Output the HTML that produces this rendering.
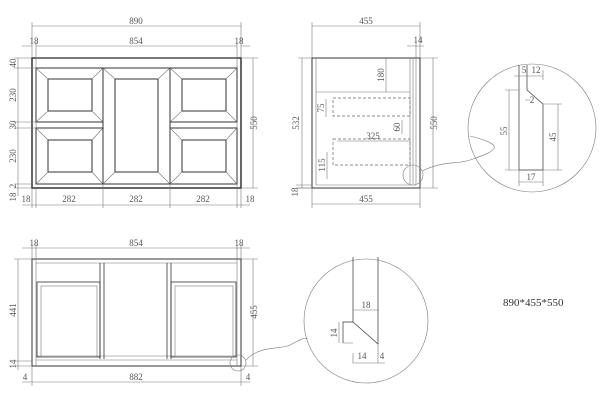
<!DOCTYPE html>
<html><head><style>
html,body{margin:0;padding:0;background:#fff;}
svg{display:block;}
text{font-family:"Liberation Serif",serif;font-size:9px;fill:#555;}
.l{stroke:#333;stroke-width:1;fill:none;}
.t{stroke:#777;stroke-width:0.6;fill:none;}
.d{stroke:#666;stroke-width:0.7;fill:none;stroke-dasharray:3,2;}
</style></head><body>
<svg width="600" height="410" viewBox="0 0 600 410" xmlns="http://www.w3.org/2000/svg">
<!-- FRONT VIEW TOP -->
<rect class="l" x="32" y="58" width="209" height="130" style="stroke-width:1.5"/>
<rect class="t" x="36" y="58" width="201" height="126"/>
<line class="t" x1="36" y1="68" x2="237" y2="68"/>
<!-- left top panel -->
<rect class="l" x="36" y="68" width="67" height="54"/>
<rect class="l" x="48" y="79" width="44" height="32"/>
<path class="t" d="M36 68L48 79M103 68L92 79M36 122L48 111M103 122L92 111"/>
<rect class="l" x="36" y="128" width="67" height="56"/>
<rect class="l" x="48" y="140" width="44" height="32"/>
<path class="t" d="M36 128L48 140M103 128L92 140M36 184L48 172M103 184L92 172"/>
<rect class="l" x="103" y="68" width="67" height="116"/>
<rect class="l" x="115" y="79" width="43" height="93"/>
<path class="t" d="M103 68L115 79M170 68L158 79M103 184L115 172M170 184L158 172"/>
<rect class="l" x="170" y="68" width="67" height="54"/>
<rect class="l" x="182" y="79" width="44" height="32"/>
<path class="t" d="M170 68L182 79M237 68L226 79M170 122L182 111M237 122L226 111"/>
<rect class="l" x="170" y="128" width="67" height="56"/>
<rect class="l" x="182" y="140" width="44" height="32"/>
<path class="t" d="M170 128L182 140M237 128L226 140M170 184L182 172M237 184L226 172"/>
<!-- dims -->
<path class="t" d="M32 26H241M32 22V58M241 22V58M36 46H237M22 46H32M241 46H250M32 42V58M36 42V58M237 42V58M241 42V58"/>
<text x="136" y="24" text-anchor="middle">890</text>
<text x="136" y="44" text-anchor="middle">854</text>
<text x="34" y="44" text-anchor="middle">18</text>
<text x="239" y="44" text-anchor="middle">18</text>
<path class="t" d="M18 58V196M14 58H32M14 68H36M14 122H36M14 128H36M14 184H32M14 188H32M253 58V188M241 58H258M241 188H258"/>
<text transform="translate(16,63) rotate(-90)" text-anchor="middle">40</text>
<text transform="translate(16,95) rotate(-90)" text-anchor="middle">230</text>
<text transform="translate(16,125) rotate(-90)" text-anchor="middle">30</text>
<text transform="translate(16,156) rotate(-90)" text-anchor="middle">230</text>
<text transform="translate(16,186) rotate(-90)" text-anchor="middle">2</text>
<text transform="translate(16,197) rotate(-90)" text-anchor="middle">18</text>
<text transform="translate(257,123) rotate(-90)" text-anchor="middle">550</text>
<path class="t" d="M22 205H250M32 188V208M36 188V208M103 184V208M170 184V208M237 184V208M241 188V208"/>
<text x="69" y="202" text-anchor="middle">282</text>
<text x="136" y="202" text-anchor="middle">282</text>
<text x="203" y="202" text-anchor="middle">282</text>
<text x="26" y="202" text-anchor="middle">18</text>
<text x="250" y="202" text-anchor="middle">18</text>
<!-- SIDE VIEW -->
<rect class="l" x="312" y="58" width="108" height="130"/>
<line class="t" x1="316" y1="58" x2="316" y2="185"/>
<line class="t" x1="316" y1="185" x2="416" y2="185"/>
<line class="t" x1="316" y1="92" x2="410" y2="92"/>
<path class="t" d="M410 58V184M413 58V184M416 58V184"/>
<rect class="d" x="333" y="98" width="77" height="18"/>
<rect class="d" x="333" y="139" width="77" height="26"/>
<path class="t" d="M312 26H420M312 22V58M420 22V58M312 204H420M312 188V208M420 188V208M302 58V188M298 58H312M298 188H312M433 58V188M420 58H438M420 188H438M407 46H424M416 40V58M420 40V58"/>
<text x="366" y="24" text-anchor="middle">455</text>
<text x="366" y="202" text-anchor="middle">455</text>
<text x="418" y="43" text-anchor="middle">14</text>
<text transform="translate(299,123) rotate(-90)" text-anchor="middle">532</text>
<text transform="translate(437,123) rotate(-90)" text-anchor="middle">550</text>
<path class="t" d="M386 58V92M326 99V117M327 152V179M402 120V134M337 141H410"/>
<text transform="translate(384,75) rotate(-90)" text-anchor="middle">180</text>
<text transform="translate(324,108) rotate(-90)" text-anchor="middle">75</text>
<text transform="translate(325,165) rotate(-90)" text-anchor="middle">115</text>
<text transform="translate(400,127) rotate(-90)" text-anchor="middle">60</text>
<text x="373" y="139" text-anchor="middle">325</text>
<path class="t" d="M296 185H312M296 188H312"/>
<text transform="translate(298,192) rotate(-90)" text-anchor="middle">18</text>
<circle class="t" cx="413" cy="175" r="10"/>
<path class="t" d="M422 171C445 160,455 165,470 160C500 150,505 145,470 136"/>
<path class="t" d="M422 172C440 162,460 168,480 158C500 150,495 145,470 136" style="display:none"/>
<path class="t" d="M423 171C445 162,460 170,480 158C490 150,495 144,470 138" style="display:none"/>
<!-- detail circle top -->
<circle class="t" cx="532" cy="128" r="64"/>
<path class="l" style="stroke-width:0.7" d="M519 65V170H543V104L527 90V65"/>
<path class="t" d="M509 90V170M505 90H519M505 170H519M558 104V170M543 104H562M543 170H562M519 182H543M519 170V186M543 170V186M514 76H543M543 70V80M525 100H530"/>
<text x="524" y="73" text-anchor="middle">5</text>
<text x="536" y="73" text-anchor="middle">12</text>
<text x="532" y="103" text-anchor="middle">2</text>
<text x="531" y="180" text-anchor="middle">17</text>
<text transform="translate(507,131) rotate(-90)" text-anchor="middle">55</text>
<text transform="translate(556,137) rotate(-90)" text-anchor="middle">45</text>
<!-- BOTTOM VIEW -->
<rect class="l" x="32" y="259" width="209" height="107"/>
<path class="t" d="M36 259V366M237 259V366M36 263H237M36 356H237M36 360H237"/>
<path class="l" style="stroke-width:0.8" d="M100 263V359M104 263V359M167 263V359M171 263V359"/>
<rect class="l" x="37" y="282" width="63" height="75" style="stroke-width:0.8"/>
<rect class="t" x="41" y="286" width="56" height="71"/>
<rect class="l" x="171" y="282" width="65" height="75" style="stroke-width:0.8"/>
<rect class="t" x="175" y="286" width="58" height="71"/>
<path class="t" d="M22 248H250M32 244V259M36 244V259M237 244V259M241 244V259M18 259V370M14 259H32M14 361H32M14 366H32M253 259V366M241 259H258M241 366H258M22 382H250M32 366V386M241 366V386"/>
<text x="136" y="246" text-anchor="middle">854</text>
<text x="34" y="246" text-anchor="middle">18</text>
<text x="239" y="246" text-anchor="middle">18</text>
<text transform="translate(16,310) rotate(-90)" text-anchor="middle">441</text>
<text transform="translate(16,364) rotate(-90)" text-anchor="middle">14</text>
<text transform="translate(257,312) rotate(-90)" text-anchor="middle">455</text>
<text x="136" y="380" text-anchor="middle">882</text>
<text x="25" y="380" text-anchor="middle">4</text>
<text x="248" y="380" text-anchor="middle">4</text>
<circle class="t" cx="238" cy="363" r="8"/>
<path class="t" d="M246 360C260 345,280 350,290 345C300 340,302 338,308 338"/>
<!-- detail circle bottom -->
<circle class="t" cx="366" cy="321" r="62"/>
<path class="l" style="stroke-width:0.7" d="M353 257V322L378 344V257M353 322H343V343"/>
<path class="t" d="M353 310H379M353 353V363H379M378 344V363M385 363H379M339 322V343M343 343H353"/>
<text x="366" y="308" text-anchor="middle">18</text>
<text x="362" y="359" text-anchor="middle">14</text>
<text x="382" y="359" text-anchor="middle">4</text>
<text transform="translate(337,333) rotate(-90)" text-anchor="middle">14</text>
<text x="503" y="306" style="font-size:11px;fill:#333">890*455*550</text>
</svg>
</body></html>
